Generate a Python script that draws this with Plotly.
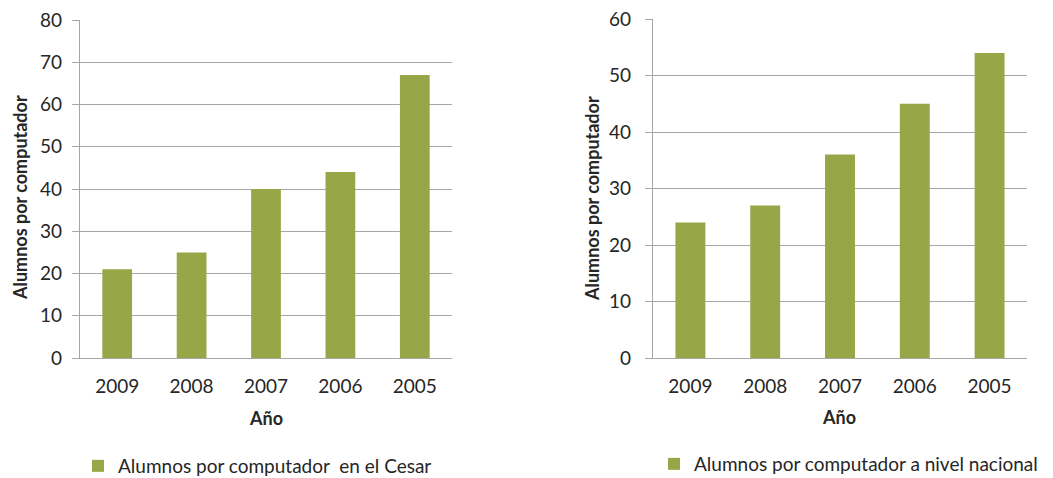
import plotly.graph_objects as go

# Student-per-computer ratios by year
years = ["2009", "2008", "2007", "2006", "2005"]
cesar = [21, 25, 40, 44, 67]
nacional = [24, 27, 36, 45, 54]

legend_cesar = "Alumnos por computador  en el Cesar"
legend_nacional = "Alumnos por computador a nivel nacional"
y_title = "Alumnos por computador"
x_title = "Año"

W, H = 1053, 478
BAR = "#97A747"
GRID = "#A6A6A6"
TXT = "#262626"
FONT = "Lato"


def px_x(v):
    return v / W


def px_y(v):
    return 1 - v / H


fig = go.Figure()
fig.add_trace(go.Bar(x=years, y=cesar, marker=dict(color=BAR, line=dict(width=0)),
                     width=0.4, name=legend_cesar, xaxis="x", yaxis="y", legend="legend"))
fig.add_trace(go.Bar(x=years, y=nacional, marker=dict(color=BAR, line=dict(width=0)),
                     width=0.4, name=legend_nacional, xaxis="x2", yaxis="y2", legend="legend2"))

axis_common = dict(showline=True, linecolor=GRID, linewidth=1.3, automargin=False,
                   tickfont=dict(family=FONT, size=19, color=TXT))

fig.update_layout(
    width=W, height=H,
    margin=dict(l=0, r=0, t=0, b=0, autoexpand=False),
    paper_bgcolor="white", plot_bgcolor="white",
    font=dict(family=FONT, color=TXT),
    showlegend=True,
    xaxis=dict(domain=[px_x(80), px_x(452)], anchor="y", ticks="", showgrid=False,
               ticklabelstandoff=11, **axis_common),
    yaxis=dict(domain=[px_y(358), px_y(20)], anchor="x", range=[0, 80], dtick=10,
               showgrid=True, gridcolor=GRID, gridwidth=1.3, zeroline=False,
               ticks="outside", ticklen=7, tickcolor=GRID, ticklabelstandoff=6,
               **axis_common),
    xaxis2=dict(domain=[px_x(653), px_x(1027)], anchor="y2", ticks="", showgrid=False,
                ticklabelstandoff=11, **axis_common),
    yaxis2=dict(domain=[px_y(358), px_y(19)], anchor="x2", range=[0, 60], dtick=10,
                showgrid=True, gridcolor=GRID, gridwidth=1.3, zeroline=False,
                ticks="outside", ticklen=7, tickcolor=GRID, ticklabelstandoff=10,
                **axis_common),
    legend=dict(x=px_x(78), y=px_y(466), xanchor="left", yanchor="middle",
                font=dict(family=FONT, size=19, color=TXT), bgcolor="rgba(0,0,0,0)"),
    legend2=dict(x=px_x(654), y=px_y(464), xanchor="left", yanchor="middle",
                 font=dict(family=FONT, size=19, color=TXT), bgcolor="rgba(0,0,0,0)"),
)

title_font = dict(family=FONT, size=18, color=TXT, weight="bold")
for xc, yc in [(20, 198), (592, 199)]:
    fig.add_annotation(text=y_title, xref="paper", yref="paper", x=px_x(xc), y=px_y(yc),
                       xanchor="center", yanchor="middle", textangle=-90,
                       showarrow=False, font=title_font)
for xc, yc in [(266, 418), (839, 417)]:
    fig.add_annotation(text=x_title, xref="paper", yref="paper", x=px_x(xc), y=px_y(yc),
                       xanchor="center", yanchor="middle", showarrow=False, font=title_font)

fig.write_html("out.html")
